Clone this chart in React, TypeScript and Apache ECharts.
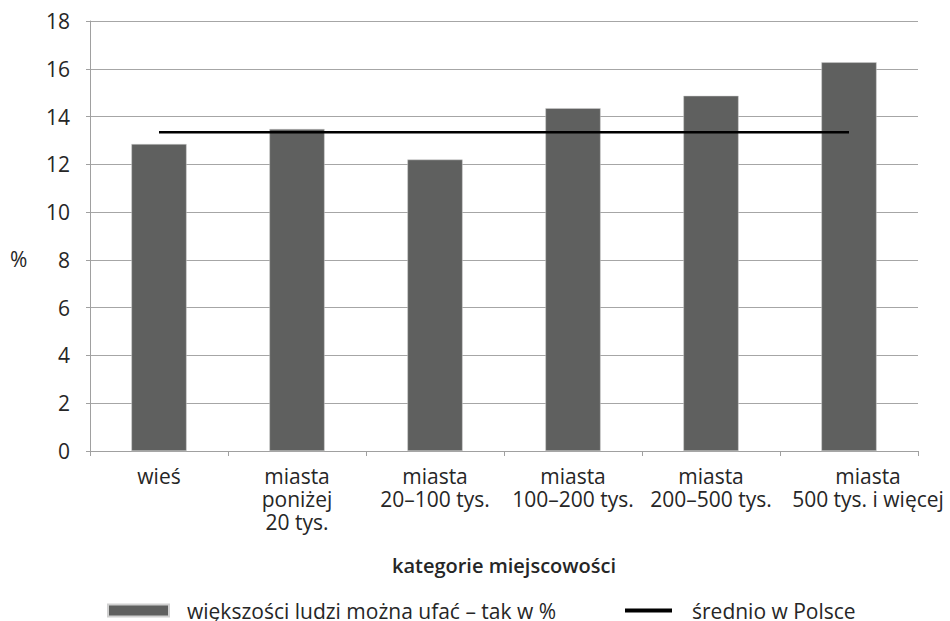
import React, { useEffect, useRef } from "react";
import * as echarts from "echarts";

const categories = [
  "wieś",
  "miasta\nponiżej\n20 tys.",
  "miasta\n20–100 tys.",
  "miasta\n100–200 tys.",
  "miasta\n200–500 tys.",
  "miasta\n500 tys. i więcej",
];
const trustValues = [12.85, 13.48, 12.2, 14.35, 14.87, 16.27];
const polandAverage = [13.34, 13.34, 13.34, 13.34, 13.34, 13.34];
const barName = "większości ludzi można ufać – tak w %";
const lineName = "średnio w Polsce";
const yAxisTitle = "%";
const xAxisTitle = "kategorie miejscowości";

const FONT = "'Open Sans', 'Noto Sans', sans-serif";
const TEXT = "#262626";

export default function App() {
  const ref = useRef<HTMLDivElement>(null);
  useEffect(() => {
    if (!ref.current) return;
    const chart = echarts.init(ref.current, undefined, { renderer: "svg" });
    const lastIdx = categories.length - 1;
    chart.setOption({
      animation: false,
      textStyle: { fontFamily: FONT, color: TEXT },
      grid: { left: 90, right: 32, top: 21, bottom: 170 },
      graphic: [
        {
          type: "text",
          left: 10,
          top: 248,
          style: { text: yAxisTitle, fontFamily: FONT, fontSize: 21, fill: TEXT },
        },
      ],
      legend: [
        {
          data: [barName],
          left: 102,
          top: 595,
          itemWidth: 61,
          itemHeight: 12,
          icon: "rect",
          textStyle: { fontFamily: FONT, fontSize: 21, color: TEXT, padding: [0, 0, 0, 13] },
        },
        {
          data: [lineName],
          left: 620,
          top: 595,
          itemWidth: 47,
          itemHeight: 4,
          icon: "rect",
          textStyle: { fontFamily: FONT, fontSize: 21, color: TEXT, padding: [0, 0, 0, 15] },
        },
      ],
      xAxis: {
        type: "category",
        data: categories.map((c, i) =>
          i === lastIdx ? { value: c, textStyle: { padding: [0, 0, 0, 38] } } : c
        ),
        name: xAxisTitle,
        nameLocation: "middle",
        nameGap: 104,
        nameTextStyle: { fontFamily: FONT, fontSize: 20, fontWeight: 600, color: TEXT },
        axisLine: { lineStyle: { color: "#a0a0a0", width: 1 } },
        axisTick: { show: true, length: 5, lineStyle: { color: "#a0a0a0" } },
        axisLabel: {
          fontFamily: FONT,
          fontSize: 21,
          color: TEXT,
          lineHeight: 23,
          margin: 13,
          interval: 0,
        },
      },
      yAxis: {
        type: "value",
        min: 0,
        max: 18,
        interval: 2,
        axisLine: { show: true, lineStyle: { color: "#a0a0a0", width: 1 } },
        axisTick: { show: true, length: 4, lineStyle: { color: "#a0a0a0" } },
        splitLine: { show: true, lineStyle: { color: "#a6a6a6", width: 1 } },
        axisLabel: { fontFamily: FONT, fontSize: 21, color: TEXT, margin: 20 },
      },
      series: [
        {
          name: barName,
          type: "bar",
          data: trustValues,
          barWidth: "40%",
          itemStyle: { color: "#5f605f", borderColor: "#d0d0d0", borderWidth: 0.5 },
        },
        {
          name: lineName,
          type: "line",
          data: polandAverage,
          symbol: "none",
          lineStyle: { color: "#000000", width: 2.5 },
          itemStyle: { color: "#000000" },
        },
      ],
    });
    return () => chart.dispose();
  }, []);
  return <div ref={ref} style={{ width: 950, height: 621, position: "absolute", left: 0, top: 0 }} />;
}
